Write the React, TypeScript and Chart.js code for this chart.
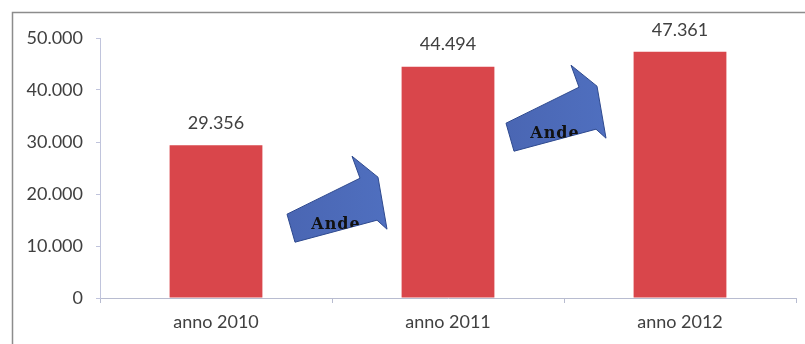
import React, { useEffect, useRef } from "react";
import { Chart, registerables } from "chart.js";

Chart.register(...registerables);

const categories = ["anno 2010", "anno 2011", "anno 2012"];
const values = [29356, 44494, 47361];
const yTicks = [0, 10000, 20000, 30000, 40000, 50000];
const arrowLevels = [19000, 36500];
const arrowText = "Ande";

const fmt = (v: number) => {
  const s = Math.round(v).toString();
  return s.replace(/\B(?=(\d{3})+(?!\d))/g, ".");
};

const FONT = "Lato, 'Open Sans', sans-serif";

export default function App() {
  const ref = useRef<HTMLCanvasElement | null>(null);

  useEffect(() => {
    document.body.style.margin = "0";
    const canvas = ref.current!;
    const framePlugin = {
      id: "frame",
      beforeDraw(chart: any) {
        const ctx = chart.ctx;
        ctx.save();
        ctx.fillStyle = "#ffffff";
        ctx.fillRect(0, 0, chart.width, chart.height);
        ctx.strokeStyle = "#8c8c8c";
        ctx.lineWidth = 1.5;
        ctx.beginPath();
        ctx.moveTo(12.5, chart.height);
        ctx.lineTo(12.5, 12.5);
        ctx.lineTo(chart.width, 12.5);
        ctx.stroke();
        ctx.restore();
      },
    };
    const labelPlugin = {
      id: "labels",
      afterDatasetsDraw(chart: any) {
        const ctx = chart.ctx;
        const meta = chart.getDatasetMeta(0);
        ctx.save();
        ctx.fillStyle = "#404040";
        ctx.font = `18px ${FONT}`;
        ctx.textAlign = "center";
        ctx.textBaseline = "middle";
        meta.data.forEach((bar: any, i: number) => {
          ctx.fillText(fmt(values[i]), bar.x, bar.y - 22);
        });
        ctx.restore();
      },
    };
    const arrowPlugin = {
      id: "arrows",
      afterDatasetsDraw(chart: any) {
        const ctx = chart.ctx;
        const xs = chart.scales.x;
        const ys = chart.scales.y;
        const shape = [
          [-50, 15],
          [23, -21],
          [15, -43],
          [41, -22],
          [50, 30],
          [40, 21],
          [-42, 43],
        ];
        arrowLevels.forEach((lvl, i) => {
          const cx = xs.getPixelForValue(i + 0.5) + (i === 0 ? 5 : -8);
          const cy = ys.getPixelForValue(lvl);
          ctx.save();
          ctx.beginPath();
          shape.forEach(([dx, dy], k) => {
            if (k === 0) ctx.moveTo(cx + dx, cy + dy);
            else ctx.lineTo(cx + dx, cy + dy);
          });
          ctx.closePath();
          const g = ctx.createLinearGradient(cx - 50, cy, cx + 50, cy);
          g.addColorStop(0, "#4a66b3");
          g.addColorStop(1, "#4f6fbf");
          ctx.fillStyle = g;
          ctx.fill();
          ctx.strokeStyle = "#2f4a8f";
          ctx.lineWidth = 1;
          ctx.stroke();
          ctx.clip();
          ctx.fillStyle = "#111111";
          ctx.font = "bold 16px 'DejaVu Serif', 'Liberation Serif', serif";
          (ctx as any).letterSpacing = "1px";
          ctx.textAlign = "center";
          ctx.textBaseline = "top";
          ctx.fillText(arrowText, cx - 1, cy + 18);
          ctx.restore();
        });
      },
    };

    const chart = new Chart(canvas, {
      type: "bar",
      data: {
        labels: categories,
        datasets: [
          {
            data: values,
            backgroundColor: "#d9464b",
            borderWidth: 0,
            categoryPercentage: 0.8,
            barPercentage: 0.5,
          },
        ],
      },
      options: {
        responsive: false,
        animation: false,
        maintainAspectRatio: false,
        layout: { padding: { top: 38, right: 9, left: 0, bottom: 0 } },
        plugins: {
          legend: { display: false },
          tooltip: { enabled: false },
        },
        scales: {
          x: {
            grid: {
              display: true,
              drawOnChartArea: false,
              drawTicks: true,
              tickLength: 5,
              color: "#b8bcd0",
              offset: true,
            },
            border: { display: true, color: "#b8bcd0", width: 1 },
            ticks: {
              color: "#404040",
              font: { size: 18, family: FONT },
              padding: 8,
            },
            afterFit: (s: any) => {
              s.height = 46;
            },
          },
          y: {
            min: 0,
            max: 50000,
            afterBuildTicks: (s: any) => {
              s.ticks = yTicks.map((v) => ({ value: v }));
            },
            grid: {
              display: true,
              drawOnChartArea: false,
              drawTicks: true,
              tickLength: 4,
              color: "#c0c4dc",
            },
            border: { display: true, color: "#c0c4dc", width: 1 },
            ticks: {
              color: "#404040",
              font: { size: 18, family: FONT },
              padding: 13,
              callback: (v: any) => fmt(Number(v)),
            },
            afterFit: (s: any) => {
              s.width = 100;
            },
          },
        },
      },
      plugins: [framePlugin, labelPlugin, arrowPlugin],
    });
    return () => chart.destroy();
  }, []);

  return (
    <div style={{ width: 805, height: 344 }}>
      <canvas ref={ref} width={805} height={344} style={{ display: "block" }} />
    </div>
  );
}
